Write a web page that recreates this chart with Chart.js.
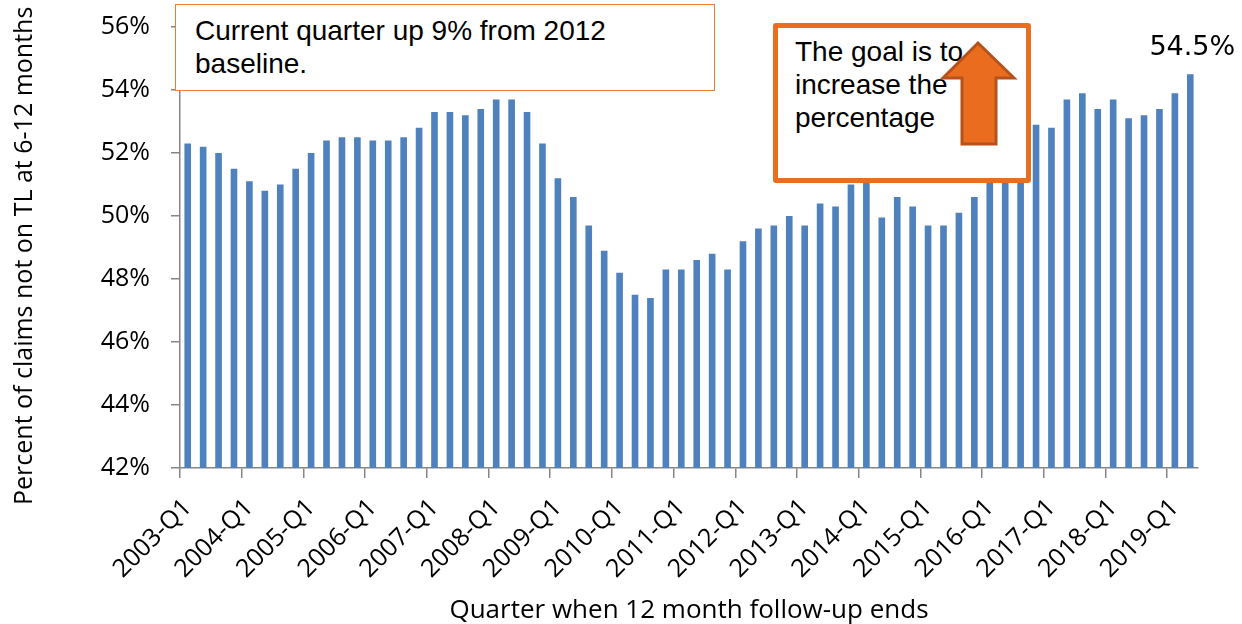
<!DOCTYPE html>
<html lang="en">
<head>
  <meta charset="UTF-8">
  <title>Percent of claims not on TL at 6-12 months</title>
  <script src="https://cdn.jsdelivr.net/npm/chart.js"></script>
  <style>
    body { margin: 0; background: #fff; }
    .wrap { position: relative; width: 1242px; height: 624px; }
    .note {
      position: absolute;
      box-sizing: border-box;
      background: #fff;
      color: #000;
      font-family: "Liberation Sans", Arial, sans-serif;
      font-size: 28px;
      line-height: 33px;
    }
    #note1 {
      left: 175px; top: 4px; width: 540px; height: 87px;
      border: 1.5px solid #ed7d31;
      padding: 9px 0 0 19px;
    }
    #note2 {
      left: 773px; top: 23px; width: 258px; height: 160px;
      border: 5px solid #e96e1f;
      border-radius: 3px;
      padding: 7px 0 0 17px;
    }
    #arrow { position: absolute; left: 0; top: 0; pointer-events: none; }
  </style>
</head>
<body>
  <div class="wrap">
    <canvas id="claimsChart" width="1242" height="624"></canvas>
    <div class="note" id="note1">Current quarter up 9% from 2012<br>baseline.</div>
    <div class="note" id="note2">The goal is to<br>increase the<br>percentage</div>
    <svg id="arrow" width="1242" height="624">
      <polygon points="978,43 1014,78 996,78 996,144 962,144 962,78 943,78"
               fill="#e96c1f" stroke="#b5521b" stroke-width="3" stroke-linejoin="miter"/>
    </svg>
  </div>

  <script>
    // quarter when 12 month follow-up ends
    const quarters = [
      '2003-Q1', '2003-Q2', '2003-Q3', '2003-Q4',
      '2004-Q1', '2004-Q2', '2004-Q3', '2004-Q4',
      '2005-Q1', '2005-Q2', '2005-Q3', '2005-Q4',
      '2006-Q1', '2006-Q2', '2006-Q3', '2006-Q4',
      '2007-Q1', '2007-Q2', '2007-Q3', '2007-Q4',
      '2008-Q1', '2008-Q2', '2008-Q3', '2008-Q4',
      '2009-Q1', '2009-Q2', '2009-Q3', '2009-Q4',
      '2010-Q1', '2010-Q2', '2010-Q3', '2010-Q4',
      '2011-Q1', '2011-Q2', '2011-Q3', '2011-Q4',
      '2012-Q1', '2012-Q2', '2012-Q3', '2012-Q4',
      '2013-Q1', '2013-Q2', '2013-Q3', '2013-Q4',
      '2014-Q1', '2014-Q2', '2014-Q3', '2014-Q4',
      '2015-Q1', '2015-Q2', '2015-Q3', '2015-Q4',
      '2016-Q1', '2016-Q2', '2016-Q3', '2016-Q4',
      '2017-Q1', '2017-Q2', '2017-Q3', '2017-Q4',
      '2018-Q1', '2018-Q2', '2018-Q3', '2018-Q4',
      '2019-Q1', '2019-Q2'
    ];

    // percent of claims not on TL at 6-12 months
    const values = [
      52.3, 52.2, 52.0, 51.5,
      51.1, 50.8, 51.0, 51.5,
      52.0, 52.4, 52.5, 52.5,
      52.4, 52.4, 52.5, 52.8,
      53.3, 53.3, 53.2, 53.4,
      53.7, 53.7, 53.3, 52.3,
      51.2, 50.6, 49.7, 48.9,
      48.2, 47.5, 47.4, 48.3,
      48.3, 48.6, 48.8, 48.3,
      49.2, 49.6, 49.7, 50.0,
      49.7, 50.4, 50.3, 51.0,
      51.3, 49.95, 50.6, 50.3,
      49.7, 49.7, 50.1, 50.6,
      51.4, 51.7, 52.2, 52.9,
      52.8, 53.7, 53.9, 53.4,
      53.7, 53.1, 53.2, 53.4,
      53.9, 54.5
    ];

    const yTicks = [42, 44, 46, 48, 50, 52, 54, 56];

    const axisGray = '#868686';
    const tickFont = { family: '"Open Sans", sans-serif', size: 25 };

    // value label over the latest quarter
    const lastLabel = {
      id: 'lastLabel',
      afterDatasetsDraw(chart) {
        const meta = chart.getDatasetMeta(0);
        const bar = meta.data[meta.data.length - 1];
        const ctx = chart.ctx;
        ctx.save();
        ctx.font = '27px "DejaVu Sans", sans-serif';
        ctx.fillStyle = '#000';
        ctx.textAlign = 'center';
        ctx.textBaseline = 'alphabetic';
        ctx.fillText(values[values.length - 1].toFixed(1) + '%', bar.x + 2, bar.y - 19);
        ctx.restore();
      }
    };

    new Chart(document.getElementById('claimsChart'), {
      type: 'bar',
      data: {
        labels: quarters,
        datasets: [{
          data: values,
          backgroundColor: '#4f81bd',
          borderWidth: 0,
          barPercentage: 0.43,
          categoryPercentage: 1.0
        }]
      },
      options: {
        responsive: false,
        animation: false,
        layout: { padding: { top: 27, right: 44, left: 0, bottom: 0 } },
        plugins: {
          legend: { display: false },
          tooltip: { enabled: false }
        },
        scales: {
          x: {
            afterFit(scale) { scale.height = 156; },
            grid: {
              offset: true,
              drawOnChartArea: false,
              tickLength: 10,
              lineWidth: 1.5,
              color: ctx => ctx.index % 4 === 0 ? axisGray : 'rgba(0,0,0,0)'
            },
            border: { color: axisGray, width: 1.5 },
            ticks: {
              autoSkip: false,
              maxRotation: 45,
              minRotation: 45,
              padding: 15,
              color: '#000',
              font: tickFont,
              callback: (v, i) => i % 4 === 0 ? quarters[i] : ''
            },
            title: {
              display: true,
              text: 'Quarter when 12 month follow-up ends',
              color: '#000',
              font: { family: '"Open Sans", sans-serif', size: 26, lineHeight: 1 },
              padding: { top: 0, bottom: 0 }
            }
          },
          y: {
            min: 42,
            max: 56,
            afterFit(scale) {
              scale.width = 180;
              // keep the label padding from pushing the plot top down
              scale.paddingTop = 10;
              scale.paddingBottom = 10;
            },
            afterBuildTicks(scale) { scale.ticks = yTicks.map(v => ({ value: v })); },
            grid: {
              drawOnChartArea: false,
              tickLength: 9,
              lineWidth: 1.5,
              color: axisGray
            },
            border: { color: axisGray, width: 1.5 },
            ticks: {
              padding: 21,
              color: '#000',
              font: tickFont,
              callback: v => v + '%'
            },
            title: {
              display: true,
              text: 'Percent of claims not on TL at 6-12 months\u2002\u2009',
              color: '#000',
              font: { family: '"Open Sans", sans-serif', size: 25 },
              padding: { top: 10, bottom: 0 }
            }
          }
        }
      },
      plugins: [lastLabel]
    });
  </script>
</body>
</html>
